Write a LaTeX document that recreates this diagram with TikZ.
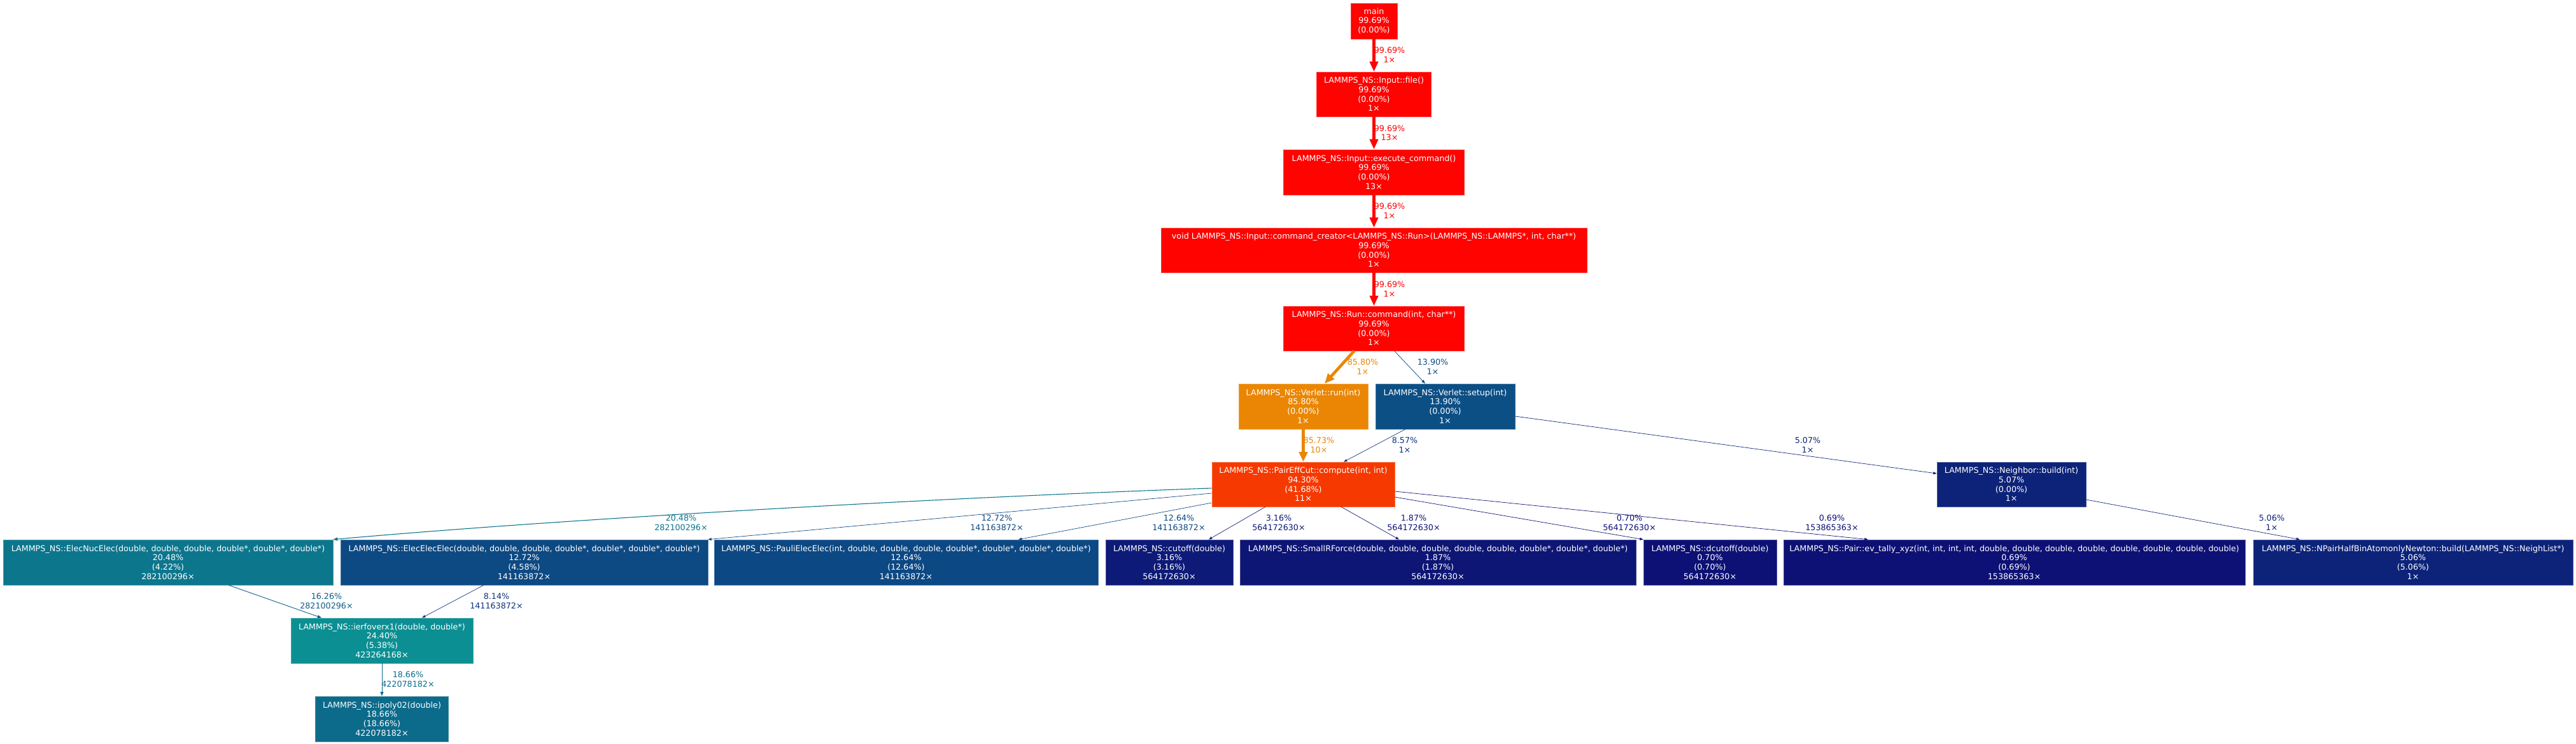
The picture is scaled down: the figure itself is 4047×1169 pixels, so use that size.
\documentclass[tikz,border=0pt]{standalone}
\usepackage{fontspec}
\setmainfont{DejaVu Sans}
\usetikzlibrary{arrows.meta,calc}
\definecolor{cRed}{RGB}{254,3,0}
\definecolor{cOrange}{RGB}{234,134,3}
\definecolor{cPair}{RGB}{246,57,1}
\definecolor{cSetup}{RGB}{12,79,133}
\definecolor{cNuc}{RGB}{12,118,141}
\definecolor{cElec}{RGB}{13,73,131}
\definecolor{cPauli}{RGB}{12,72,131}
\definecolor{cCut}{RGB}{13,26,119}
\definecolor{cSmall}{RGB}{13,21,117}
\definecolor{cDcut}{RGB}{13,16,116}
\definecolor{cNbr}{RGB}{13,35,121}
\definecolor{cIerf}{RGB}{12,143,147}
\definecolor{cIpoly}{RGB}{12,107,139}
\definecolor{cSP}{RGB}{13,51,126}
\definecolor{cNI}{RGB}{12,93,136}
\definecolor{cEI}{RGB}{13,49,125}
\tikzset{
  fn/.style={rectangle, inner sep=0pt, fill=#1, draw=#1!75!white, line width=0.7pt,
    text=white, align=center, font=\fontsize{12.7}{14.7}\selectfont},
  lab/.style={inner sep=0pt, align=center, text=#1, font=\fontsize{12.7}{14.7}\selectfont},
  conn/.style n args={4}{draw=#1, line width=#2, -{Triangle[length=#3, width=#4]}},
  hot/.style={conn={cRed}{5.3pt}{16pt}{13pt}},
  warm/.style={conn={cOrange}{4.6pt}{15.5pt}{13pt}},
  cool/.style={conn={#1}{0.67pt}{5.4pt}{4pt}},
}
\begin{document}
\begin{tikzpicture}[x=1pt,y=-1pt]
\useasboundingbox (0,0) rectangle (4047,1169);
\fill[white] (0,0) rectangle (4047,1169);

% nodes
\node[fn=cRed, minimum width=73pt, minimum height=56pt] (main) at (2158.5,33) {main\\99.69\%\\(0.00\%)};
\node[fn=cRed, minimum width=180pt, minimum height=70pt] (file) at (2158.5,148) {LAMMPS\_NS::Input::file()\\99.69\%\\(0.00\%)\\1×};
\node[fn=cRed, minimum width=284pt, minimum height=71pt] (exec) at (2158.5,270.5) {LAMMPS\_NS::Input::execute\_command()\\99.69\%\\(0.00\%)\\13×};
\node[fn=cRed, minimum width=669pt, minimum height=70pt] (creator) at (2158.5,393) {void LAMMPS\_NS::Input::command\_creator<LAMMPS\_NS::Run>(LAMMPS\_NS::LAMMPS*, int, char**)\\99.69\%\\(0.00\%)\\1×};
\node[fn=cRed, minimum width=284pt, minimum height=70pt] (run) at (2158.5,516) {LAMMPS\_NS::Run::command(int, char**)\\99.69\%\\(0.00\%)\\1×};
\node[fn=cOrange, minimum width=203pt, minimum height=71pt] (vrun) at (2047.5,638.5) {LAMMPS\_NS::Verlet::run(int)\\85.80\%\\(0.00\%)\\1×};
\node[fn=cSetup, minimum width=219pt, minimum height=71pt] (vsetup) at (2270.5,638.5) {LAMMPS\_NS::Verlet::setup(int)\\13.90\%\\(0.00\%)\\1×};
\node[fn=cPair, minimum width=287pt, minimum height=70pt] (pair) at (2047.5,761) {LAMMPS\_NS::PairEffCut::compute(int, int)\\94.30\%\\(41.68\%)\\11×};
\node[fn=cNbr, minimum width=234pt, minimum height=70pt] (nbuild) at (3160,761) {LAMMPS\_NS::Neighbor::build(int)\\5.07\%\\(0.00\%)\\1×};
\node[fn=cNuc, minimum width=518pt, minimum height=71pt] (elecnuc) at (264,883.5) {LAMMPS\_NS::ElecNucElec(double, double, double, double*, double*, double*)\\20.48\%\\(4.22\%)\\282100296×};
\node[fn=cElec, minimum width=577pt, minimum height=71pt] (elecelec) at (823.5,883.5) {LAMMPS\_NS::ElecElecElec(double, double, double, double*, double*, double*, double*)\\12.72\%\\(4.58\%)\\141163872×};
\node[fn=cPauli, minimum width=603pt, minimum height=71pt] (pauli) at (1423.5,883.5) {LAMMPS\_NS::PauliElecElec(int, double, double, double, double*, double*, double*, double*)\\12.64\%\\(12.64\%)\\141163872×};
\node[fn=cCut, minimum width=200pt, minimum height=71pt] (cutoff) at (1837,883.5) {LAMMPS\_NS::cutoff(double)\\3.16\%\\(3.16\%)\\564172630×};
\node[fn=cSmall, minimum width=622pt, minimum height=71pt] (smallr) at (2259,883.5) {LAMMPS\_NS::SmallRForce(double, double, double, double, double, double*, double*, double*)\\1.87\%\\(1.87\%)\\564172630×};
\node[fn=cDcut, minimum width=209pt, minimum height=71pt] (dcutoff) at (2686.5,883.5) {LAMMPS\_NS::dcutoff(double)\\0.70\%\\(0.70\%)\\564172630×};
\node[fn=cDcut, minimum width=725pt, minimum height=71pt] (evtally) at (3164.5,883.5) {LAMMPS\_NS::Pair::ev\_tally\_xyz(int, int, int, int, double, double, double, double, double, double, double, double)\\0.69\%\\(0.69\%)\\153865363×};
\node[fn=cNbr, minimum width=502pt, minimum height=71pt] (npair) at (3791,883.5) {LAMMPS\_NS::NPairHalfBinAtomonlyNewton::build(LAMMPS\_NS::NeighList*)\\5.06\%\\(5.06\%)\\1×};
\node[fn=cIerf, minimum width=286pt, minimum height=71pt] (ierf) at (600,1006.5) {LAMMPS\_NS::ierfoverx1(double, double*)\\24.40\%\\(5.38\%)\\423264168×};
\node[fn=cIpoly, minimum width=209pt, minimum height=71pt] (ipoly) at (600,1129.5) {LAMMPS\_NS::ipoly02(double)\\18.66\%\\(18.66\%)\\422078182×};

% connectors
\draw[hot] (main.south) -- (file.north);
\draw[hot] (file.south) -- (exec.north);
\draw[hot] (exec.south) -- (creator.north);
\draw[hot] (creator.south) -- (run.north);
\draw[warm] ($(run.south)+(-31,0)$) -- ($(vrun.north)+(33.5,0)$);
\draw[conn={cSetup}{0.74pt}{6pt}{4.5pt}] ($(run.south)+(32,0)$) -- ($(vsetup.north)+(-31.5,0)$);
\draw[warm] (vrun.south) -- (pair.north);
\draw[cool=cSP] ($(vsetup.south)+(-62.5,0)$) -- ($(pair.north)+(63.5,0)$);
\draw[cool=cNbr] ($(vsetup.east)+(0,15.5)$) -- ($(nbuild.west)+(0,-17)$);
\draw[conn={cNuc}{1.09pt}{7pt}{5.2pt}] ($(pair.west)+(0,6)$) .. controls (1454,783) and (873,816.5) .. (elecnuc.north east);
\draw[conn={cElec}{0.68pt}{5.4pt}{4pt}] ($(pair.west)+(0,14)$) -- (elecelec.north east);
\draw[cool=cPauli] ($(pair.west)+(0,29)$) -- ($(pauli.north)+(176.5,0)$);
\draw[cool=cCut] ($(pair.south)+(-59.5,0)$) -- ($(cutoff.north)+(62,0)$);
\draw[cool=cSmall] ($(pair.south)+(59.5,0)$) -- ($(smallr.north)+(-61,0)$);
\draw[cool=cDcut] ($(pair.east)+(0,20)$) -- (dcutoff.north west);
\draw[cool=cDcut] ($(pair.east)+(0,11)$) -- ($(evtally.north west)+(133,0)$);
\draw[cool=cNbr] ($(nbuild.east)+(0,24)$) -- ($(npair.north)+(-178,0)$);
\draw[conn={cNI}{0.87pt}{6.2pt}{4.6pt}] ($(elecnuc.south)+(95,0)$) -- ($(ierf.north)+(-95,0)$);
\draw[cool=cEI] ($(elecelec.south)+(-63.5,0)$) -- ($(ierf.north)+(63,0)$);
\draw[conn={cIpoly}{1pt}{6.6pt}{5pt}] (ierf.south) -- (ipoly.north);

% connector labels
\node[lab=cRed] (lA) at (2183,86) {99.69\%\\1×};
\node[lab=cRed] (lB) at (2183,209) {99.69\%\\13×};
\node[lab=cRed] (lC) at (2183,331.5) {99.69\%\\1×};
\node[lab=cRed] (lD) at (2183,454) {99.69\%\\1×};
\node[lab=cOrange] (lE) at (2141,576) {85.80\%\\1×};
\node[lab=cSetup] (lF) at (2251,576) {13.90\%\\1×};
\node[lab=cOrange] (lG) at (2072,699.5) {85.73\%\\10×};
\node[lab=cSP] (lH) at (2207,699.5) {8.57\%\\1×};
\node[lab=cNbr] (lI) at (2840,699.5) {5.07\%\\1×};
\node[lab=cNuc] (lJ) at (1070,821.5) {20.48\%\\282100296×};
\node[lab=cElec] (lK) at (1566,821.5) {12.72\%\\141163872×};
\node[lab=cPauli] (lL) at (1852,821.5) {12.64\%\\141163872×};
\node[lab=cCut] (lM) at (2009,821.5) {3.16\%\\564172630×};
\node[lab=cSmall] (lN) at (2221,821.5) {1.87\%\\564172630×};
\node[lab=cDcut] (lO) at (2560,821.5) {0.70\%\\564172630×};
\node[lab=cDcut] (lP) at (2878,821.5) {0.69\%\\153865363×};
\node[lab=cNbr] (lQ) at (3569,821.5) {5.06\%\\1×};
\node[lab=cNI] (lR) at (513,944.5) {16.26\%\\282100296×};
\node[lab=cEI] (lS) at (780,944.5) {8.14\%\\141163872×};
\node[lab=cIpoly] (lT) at (641,1067.5) {18.66\%\\422078182×};
\end{tikzpicture}
\end{document}
